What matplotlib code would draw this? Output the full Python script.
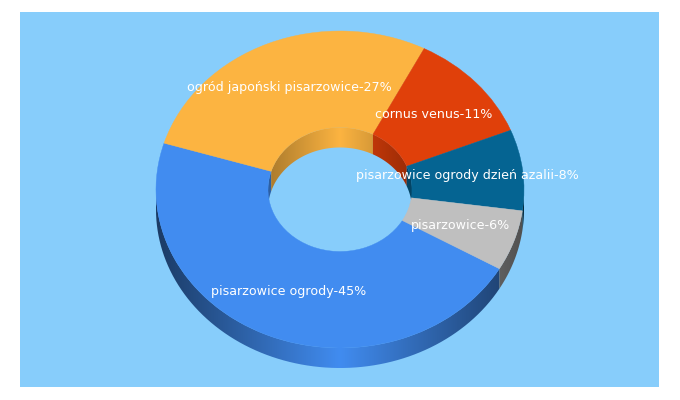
"""3D style donut chart with keyword shares"""
import numpy as np
import matplotlib
matplotlib.use('Agg')
import matplotlib.pyplot as plt
from matplotlib.colors import to_rgb
from matplotlib.patches import Polygon, Rectangle, Wedge
from matplotlib.transforms import Affine2D

# data
labels = ['pisarzowice ogrody-45%', 'ogród japoński pisarzowice-27%', 'cornus venus-11%',
          'pisarzowice ogrody dzień azalii-8%', 'pisarzowice-6%']
values = [45, 27, 11, 8, 6]
colors = ['#418CF0', '#FCB441', '#E0400A', '#056492', '#BFBFBF']
label_x = [289, 289, 434, 467, 461]
label_y = [291, 87, 114, 175, 225]

# geometry in pixels
BG = '#87CDFB'
CX, CY = 340, 189.5
RX, RY = 184, 158.5
HOLE = 72 / 184
DEPTH = 20
START = -30


def wall(ax, color, t1, t2, rx, ry, edge):
    """Side wall between two angles, shaded dark towards the sides."""
    th = np.radians(np.linspace(t1, t2, 80))
    x = CX + rx * np.cos(th)
    y = CY - ry * np.sin(th)
    pts = np.r_[np.c_[x, y], np.c_[x, y + DEPTH][::-1]]
    xs = np.linspace(-1, 1, 256)
    shade = 1 - (1 - edge) * np.abs(xs)
    grad = shade[None, :, None] * np.array(to_rgb(color))[None, None, :]
    im = ax.imshow(grad, extent=[CX - rx, CX + rx, CY + ry + DEPTH, CY - ry],
                   aspect='auto', interpolation='bilinear', zorder=2)
    clip = Polygon(pts, closed=True, transform=ax.transData)
    im.set_clip_path(clip)


fig = plt.figure(figsize=(6.8, 4), dpi=100, facecolor='white')
ax = fig.add_axes([0, 0, 1, 1])
ax.add_patch(Rectangle((20, 12), 639, 375, facecolor=BG, edgecolor='none', zorder=0))

unit = Affine2D().scale(RX, -RY).translate(CX, CY) + ax.transData
angle = START
for val, col in zip(values, colors):
    sweep = 360 * val / sum(values)
    t1, t2 = angle - sweep, angle
    angle = t1
    # walls: outer one at the front, inner one at the back of the hole
    for shift in (-720, -360, 0, 360, 720):
        lo, hi = max(t1 + shift, 180), min(t2 + shift, 360)
        if lo < hi:
            wall(ax, col, lo, hi, RX, RY, 0.42)
        lo, hi = max(t1 + shift, 0), min(t2 + shift, 180)
        if lo < hi:
            wall(ax, col, lo, hi, RX * HOLE, RY * HOLE, 0.68)
    ax.add_patch(Wedge((0, 0), 1, t1, t2, width=1 - HOLE, facecolor=col, edgecolor=col,
                       linewidth=0.3, transform=unit, zorder=3))

for name, x, y in zip(labels, label_x, label_y):
    ax.text(x, y, name, color='white', fontsize=9.05, family='DejaVu Sans',
            ha='center', va='center', zorder=4)

ax.set_xlim(0, 680)
ax.set_ylim(400, 0)
ax.axis('off')
fig.savefig('out.png', dpi=100)
plt.close(fig)
